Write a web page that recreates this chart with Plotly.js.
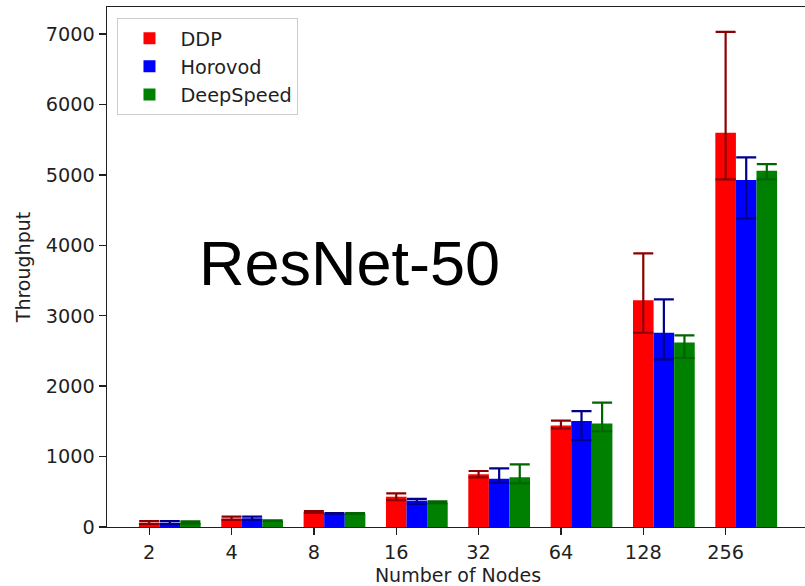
<!DOCTYPE html>
<html>
<head>
<meta charset="utf-8">
<script src="https://cdn.plot.ly/plotly-3.0.1.min.js"></script>
<style>
html,body{margin:0;padding:0;overflow:hidden;background:#fff;}
#chart{width:809px;height:586px;}
</style>
</head>
<body>
<div id="chart"></div>
<script>
// ---- data ----
const nodeLabels = ["2", "4", "8", "16", "32", "64", "128", "256"];

const ddpValues   = [60, 120, 210, 430, 750, 1440, 3220, 5600];
const ddpUpper    = [85, 147, 225, 478, 795, 1510, 3886, 7033];
const ddpLower    = [45, 100, 200, 383, 706, 1401, 2759, 4937];

const horovodValues = [60, 123, 190, 375, 686, 1505, 2760, 4927];
const horovodUpper  = [85, 147, 196, 400, 833, 1647, 3233, 5249];
const horovodLower  = [45, 100, 185, 327, 629, 1235, 2381, 4383];

const deepspeedValues = [58, 90, 190, 345, 706, 1470, 2622, 5059];
const deepspeedUpper  = [80, 96, 196, 365, 890, 1765, 2722, 5154];
const deepspeedLower  = [48, 85, 185, 338, 620, 1360, 2400, 4937];

const seriesNames = ["DDP", "Horovod", "DeepSpeed"];
const barColors   = ["#ff0000", "#0000ff", "#008000"];
const errColors   = ["#8b0000", "#00008b", "#006400"];

// ---- build traces ----
const barWidth = 0.25;
const idx = nodeLabels.map((_, i) => i);
const vals = [ddpValues, horovodValues, deepspeedValues];
const ups  = [ddpUpper, horovodUpper, deepspeedUpper];
const los  = [ddpLower, horovodLower, deepspeedLower];

const traces = seriesNames.map((name, k) => ({
  type: "bar",
  name: name,
  x: idx.map(i => i + k * barWidth),
  y: vals[k],
  width: barWidth,
  marker: {color: barColors[k], line: {width: 0}},
  error_y: {
    type: "data",
    symmetric: false,
    array: ups[k].map((u, i) => u - vals[k][i]),
    arrayminus: vals[k].map((v, i) => v - los[k][i]),
    color: errColors[k],
    thickness: 2.2,
    width: 10,
    visible: true
  },
  hoverinfo: "skip"
}));

const txt = "#1f1f1f";
const layout = {
  width: 809,
  height: 586,
  margin: {l: 107, r: 0, t: 7, b: 59, pad: 0},
  paper_bgcolor: "#ffffff",
  plot_bgcolor: "#ffffff",
  barmode: "overlay",
  showlegend: true,
  font: {family: "DejaVu Sans", size: 19.3, color: txt},
  xaxis: {
    range: [-0.5125, 8.0125],
    tickmode: "array",
    tickvals: idx,
    ticktext: nodeLabels,
    ticks: "outside",
    ticklen: 7,
    tickwidth: 1.4,
    tickcolor: txt,
    showline: true,
    linecolor: txt,
    linewidth: 1.4,
    mirror: true,
    showgrid: false,
    zeroline: false,
    tickfont: {size: 19.3, color: txt},
    title: {text: "Number of Nodes", font: {size: 19, color: txt}, standoff: 6}
  },
  yaxis: {
    range: [0, 7385],
    tickmode: "array",
    tickvals: [0, 1000, 2000, 3000, 4000, 5000, 6000, 7000],
    ticks: "outside",
    ticklen: 7,
    tickwidth: 1.4,
    tickcolor: txt,
    showline: true,
    linecolor: txt,
    linewidth: 1.4,
    mirror: true,
    showgrid: false,
    zeroline: false,
    tickfont: {size: 19.3, color: txt},
    title: {text: "Throughput", font: {size: 19, color: txt}, standoff: 10}
  },
  legend: {
    x: 0.0145, y: 0.979, xanchor: "left", yanchor: "top",
    bgcolor: "rgba(255,255,255,0.8)",
    bordercolor: "#cccccc",
    borderwidth: 1.3,
    font: {size: 19.3, color: txt},
    itemwidth: 52,
    tracegroupgap: 0
  },
  annotations: [{
    text: "ResNet-50",
    xref: "paper", yref: "paper",
    x: 0.346, y: 0.508,
    xanchor: "center", yanchor: "middle",
    showarrow: false,
    font: {family: "Liberation Sans, Arial", size: 63, color: "#000000"}
  }]
};

Plotly.newPlot("chart", traces, layout, {displayModeBar: false, staticPlot: true});
</script>
</body>
</html>
